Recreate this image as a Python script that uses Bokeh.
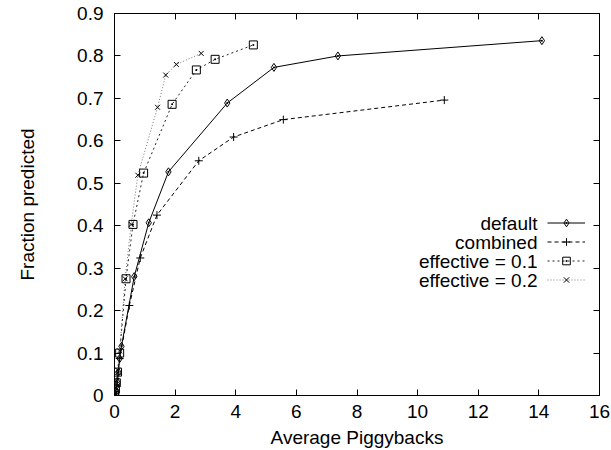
import numpy as np
from bokeh.plotting import figure
from bokeh.models import (Range1d, LinearAxis, Legend, LegendItem, Label,
                          CustomJSTickFormatter, FixedTicker)
from bokeh.core.properties import value
from bokeh.embed import file_html
from bokeh.resources import INLINE

# ---- data ----
default_x = [0.0, 0.01, 0.03, 0.06, 0.10, 0.13, 0.17, 0.23, 0.65, 1.13, 1.78, 3.72, 5.26, 7.37, 14.1]
default_y = [0.0, 0.004, 0.012, 0.022, 0.031, 0.055, 0.087, 0.116, 0.280, 0.407, 0.527, 0.689, 0.773, 0.800, 0.836]

combined_x = [0.0, 0.02, 0.05, 0.09, 0.17, 0.49, 0.85, 1.40, 2.78, 3.93, 5.57, 10.88]
combined_y = [0.0, 0.010, 0.025, 0.050, 0.087, 0.212, 0.324, 0.425, 0.553, 0.609, 0.650, 0.696]

eff01_x = [0.0, 0.01, 0.03, 0.06, 0.10, 0.17, 0.38, 0.61, 0.96, 1.90, 2.70, 3.32, 4.58]
eff01_y = [0.0, 0.005, 0.015, 0.030, 0.055, 0.100, 0.275, 0.403, 0.524, 0.686, 0.767, 0.792, 0.826]

eff02_x = [0.0, 0.01, 0.03, 0.06, 0.10, 0.17, 0.35, 0.55, 0.77, 1.42, 1.69, 2.04, 2.86]
eff02_y = [0.0, 0.006, 0.018, 0.035, 0.060, 0.105, 0.275, 0.403, 0.519, 0.679, 0.755, 0.780, 0.806]

series_names = ["default", "combined", "effective = 0.1", "effective = 0.2"]

x_ticks = [0, 2, 4, 6, 8, 10, 12, 14, 16]
y_ticks = [0, 0.1, 0.2, 0.3, 0.4, 0.5, 0.6, 0.7, 0.8, 0.9]
y_tick_labels = ["0", "0.1", "0.2", "0.3", "0.4", "0.5", "0.6", "0.7", "0.8", "0.9"]

FONT = "Liberation Sans"
FS = "19px"

p = figure(width=611, height=450, output_backend="svg", toolbar_location=None,
           x_range=Range1d(0, 16), y_range=Range1d(0, 0.9),
           min_border_left=114, min_border_right=12, min_border_top=13, min_border_bottom=55,
           background_fill_color="white", border_fill_color="white")
p.grid.visible = False
p.outline_line_color = "black"
p.outline_line_width = 1

for ax in [p.xaxis[0], p.yaxis[0]]:
    ax.major_tick_in = 6
    ax.major_tick_out = 0
    ax.minor_tick_line_color = None
    ax.axis_line_color = "black"
    ax.major_label_text_font = FONT
    ax.major_label_text_font_size = FS
    ax.major_label_text_color = "black"
    ax.axis_label_text_font = FONT
    ax.axis_label_text_font_size = FS
    ax.axis_label_text_font_style = "normal"
    ax.axis_label_text_color = "black"

p.xaxis[0].ticker = FixedTicker(ticks=x_ticks)
p.yaxis[0].ticker = FixedTicker(ticks=y_ticks)
p.yaxis[0].major_label_overrides = {t: l for t, l in zip(y_ticks, y_tick_labels)}
p.xaxis[0].axis_label = "Average Piggybacks"
p.yaxis[0].axis_label = "Fraction predicted"
p.xaxis[0].major_label_standoff = 9
p.yaxis[0].major_label_standoff = 11
p.xaxis[0].axis_label_standoff = 6
p.yaxis[0].axis_label_standoff = 36

# mirror ticks on top and right
blank = CustomJSTickFormatter(code="return ''")
top = LinearAxis(ticker=FixedTicker(ticks=x_ticks), formatter=blank,
                 major_tick_in=6, major_tick_out=0, minor_tick_line_color=None,
                 major_label_standoff=0, major_label_text_font_size="1px")
right = LinearAxis(ticker=FixedTicker(ticks=y_ticks), formatter=blank,
                   major_tick_in=6, major_tick_out=0, minor_tick_line_color=None,
                   major_label_standoff=0, major_label_text_font_size="1px")
p.add_layout(top, "above")
p.add_layout(right, "right")

styles = [
    dict(color="black", dash="solid", marker="diamond_dot", size=8, lw=1),
    dict(color="black", dash="4 3", marker="cross", size=8, lw=1),
    dict(color="#222222", dash="2 3", marker="square_dot", size=8, lw=1),
    dict(color="#777777", dash="1 2", marker="x", size=7, lw=1),
]
data = [(default_x, default_y), (combined_x, combined_y),
        (eff01_x, eff01_y), (eff02_x, eff02_y)]

items = []
for (xs, ys), st, name in zip(data, styles, series_names):
    ln = p.line(xs, ys, line_color=st["color"], line_dash=st["dash"], line_width=st["lw"])
    mk = p.scatter(xs, ys, marker=st["marker"], size=st["size"],
                   line_color="black", fill_color=None, line_width=1)
    items.append(LegendItem(label=value(" "), renderers=[ln, mk]))

legend = Legend(items=items, location=(433, 106), padding=0, margin=0, spacing=0,
                glyph_width=38, glyph_height=19, label_height=19, label_width=0,
                label_standoff=0, border_line_color=None, background_fill_alpha=0,
                label_text_font_size="1px")
p.add_layout(legend, "center")

for i, name in enumerate(series_names):
    p.add_layout(Label(x=423, y=172.5 - 19 * i, x_units="screen", y_units="screen",
                       text=name, text_align="right", text_baseline="middle",
                       text_font=FONT, text_font_size=FS, text_color="black"))

open("out.html", "w").write(file_html(p, INLINE))
